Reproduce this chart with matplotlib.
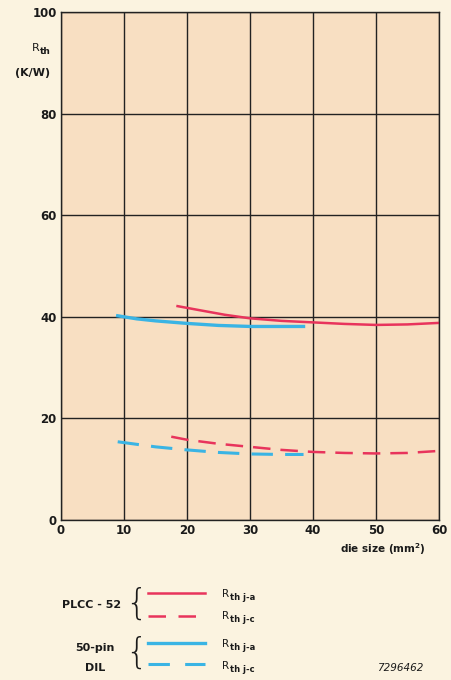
import numpy as np
import matplotlib
matplotlib.use('Agg')
import matplotlib.pyplot as plt
from matplotlib.lines import Line2D

# PLCC-52
plcc_ja_x = [18.5, 22, 26, 30, 35, 40, 45, 50, 55, 60]
plcc_ja_y = [42.1, 41.3, 40.4, 39.7, 39.2, 38.9, 38.6, 38.4, 38.5, 38.8]
plcc_jc_x = [17.5, 20, 25, 30, 35, 40, 45, 50, 55, 60]
plcc_jc_y = [16.4, 15.8, 15.0, 14.4, 13.8, 13.4, 13.2, 13.1, 13.2, 13.6]
# 50-pin DIL
dil_ja_x = [9, 12, 15, 20, 25, 30, 35, 38.5]
dil_ja_y = [40.2, 39.6, 39.2, 38.7, 38.3, 38.1, 38.1, 38.1]
dil_jc_x = [9, 12, 15, 20, 25, 30, 35, 38.5]
dil_jc_y = [15.4, 14.9, 14.4, 13.8, 13.3, 13.0, 12.9, 12.9]

xticks = [0, 10, 20, 30, 40, 50, 60]
yticks = [0, 20, 40, 60, 80, 100]

red = '#e8345c'
blue = '#3ab4e4'
txt = '#1a1a1a'

fig = plt.figure(figsize=(4.51, 6.8), dpi=100)
fig.patch.set_facecolor('#fbf3e0')
ax = fig.add_axes([61/451, 160/680, 378/451, 508/680])
ax.set_facecolor('#f8dfc2')

ax.plot(plcc_ja_x, plcc_ja_y, color=red, lw=1.8)
ax.plot(plcc_jc_x, plcc_jc_y, color=red, lw=1.8, dashes=(7, 4))
ax.plot(dil_ja_x, dil_ja_y, color=blue, lw=2.4)
ax.plot(dil_jc_x, dil_jc_y, color=blue, lw=2.2, dashes=(7, 4))

ax.set_xlim(0, 60)
ax.set_ylim(0, 100)
ax.set_xticks(xticks)
ax.set_yticks(yticks)
ax.grid(color='#222222', lw=1.0)
ax.set_axisbelow(True)
for s in ax.spines.values():
    s.set_color('#222222')
    s.set_linewidth(1.0)
ax.tick_params(length=0, pad=3, labelsize=8.5, labelcolor=txt)
for lab in ax.get_xticklabels() + ax.get_yticklabels():
    lab.set_fontweight('bold')


def rlabel(x, y, sub, size=7.5):
    # R with a plain-text subscript (keeps the hyphen as a hyphen)
    fig.text(x/451, 1 - y/680, 'R', ha='left', va='center', fontsize=size, color=txt)
    fig.text((x + 8)/451, 1 - (y + 3)/680, sub, ha='left', va='center',
             fontsize=size - 1.5, color=txt, fontweight='bold')


rlabel(32, 48, 'th', size=8)
fig.text(33/451, 1 - 73/680, '(K/W)', ha='center', va='center', fontsize=8, color=txt, fontweight='bold')
fig.text(383/451, 1 - 549/680, 'die size (mm$^{\\mathregular{2}}$)', ha='center', va='center', fontsize=7.5, color=txt, fontweight='bold')

# legend block
def legline(y, color, lw, dashed):
    kw = dict(color=color, lw=lw, transform=fig.transFigure)
    if dashed:
        kw['dashes'] = (7, 5)
    fig.add_artist(Line2D([148/451, 205/451], [1 - y/680, 1 - y/680], **kw))

legline(593, red, 1.8, False)
legline(616, red, 1.8, True)
legline(643, blue, 2.4, False)
legline(664, blue, 2.2, True)

fig.text(92/451, 1 - 605/680, 'PLCC - 52', ha='center', va='center', fontsize=8, color=txt, fontweight='bold')
fig.text(136/451, 1 - 604/680, '{', ha='center', va='center', fontsize=25, color=txt, fontweight='light')
fig.text(95/451, 1 - 648/680, '50-pin', ha='center', va='center', fontsize=8, color=txt, fontweight='bold')
fig.text(95/451, 1 - 668/680, 'DIL', ha='center', va='center', fontsize=8, color=txt, fontweight='bold')
fig.text(136/451, 1 - 653/680, '{', ha='center', va='center', fontsize=25, color=txt, fontweight='light')
for y, sub in [(594, 'th j-a'), (616, 'th j-c'), (644, 'th j-a'), (666, 'th j-c')]:
    rlabel(222, y, sub)

fig.text(400/451, 1 - 668/680, '7296462', ha='center', va='center', fontsize=7.5, color=txt, style='italic')

fig.savefig('out.png', dpi=100, facecolor=fig.get_facecolor())
